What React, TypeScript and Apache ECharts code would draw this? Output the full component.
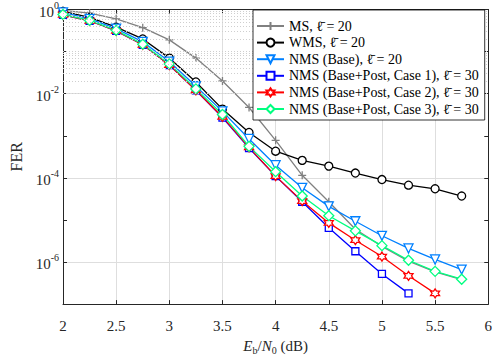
import React, { useEffect, useRef } from "react";
import * as echarts from "echarts";

const X_VALUES = [2, 2.25, 2.5, 2.75, 3, 3.25, 3.5, 3.75, 4, 4.25, 4.5, 4.75, 5, 5.25, 5.5, 5.75];

const MS = [0.95, 0.82, 0.6, 0.37, 0.19, 0.07, 0.02, 0.0047, 7.8e-4, 1.15e-4, 2.7e-5, 6.0e-6, 2.35e-6, 1.05e-6, 5.8e-7, 3.8e-7];
const WMS = [0.9, 0.65, 0.38, 0.2, 0.07, 0.019, 0.0043, 0.0012, 4.3e-4, 2.6e-4, 1.9e-4, 1.3e-4, 9.1e-5, 6.7e-5, 5.5e-5, 3.7e-5];
const NMS_BASE = [0.85, 0.6, 0.35, 0.17, 0.058, 0.015, 0.0038, 8.4e-4, 2.0e-4, 5.8e-5, 2.1e-5, 9.3e-6, 4.2e-6, 2.1e-6, 1.15e-6, 6.6e-7];
const NMS_CASE1 = [0.75, 0.54, 0.31, 0.145, 0.048, 0.012, 0.0027, 5.1e-4, 1.1e-4, 2.7e-5, 6.5e-6, 1.8e-6, 5.2e-7, 1.8e-7];
const NMS_CASE2 = [0.75, 0.54, 0.31, 0.145, 0.048, 0.012, 0.0028, 5.3e-4, 1.1e-4, 2.8e-5, 8.5e-6, 3.3e-6, 1.35e-6, 4.7e-7, 1.8e-7];
const NMS_CASE3 = [0.76, 0.55, 0.32, 0.15, 0.051, 0.013, 0.0032, 5.6e-4, 1.4e-4, 3.7e-5, 1.26e-5, 5.5e-6, 2.45e-6, 1.1e-6, 6.0e-7, 3.9e-7];

const SERIES_NAMES = [
  "MS, \u2113\u0304 = 20",
  "WMS, \u2113\u0304 = 20",
  "NMS (Base), \u2113\u0304 = 20",
  "NMS (Base+Post, Case 1), \u2113\u0304 = 30",
  "NMS (Base+Post, Case 2), \u2113\u0304 = 30",
  "NMS (Base+Post, Case 3), \u2113\u0304 = 30",
];

const Y_MIN = 1e-7;
const Y_MAX = 1;
const X_TICKS = ["2", "2.5", "3", "3.5", "4", "4.5", "5", "5.5", "6"];

const SERIF = "Liberation Serif, DejaVu Serif, serif";

const PLUS = "path://M5,0L5,10M0,5L10,5";
const TRI_DOWN = "path://M0,0L10,0L5,8.66Z";
const HEXAGRAM =
  "path://M5,0L6.443,2.5L9.33,2.5L7.887,5L9.33,7.5L6.443,7.5L5,10L3.557,7.5L0.67,7.5L2.113,5L0.67,2.5L3.557,2.5Z";

function minorGridValues(): number[] {
  const out: number[] = [];
  for (let e = -7; e <= -1; e++) {
    const p = Math.pow(10, e);
    if (e % 2 !== 0 && e !== -7) out.push(p);
    for (let m = 2; m <= 9; m++) out.push(m * p);
  }
  return out;
}

export default function App() {
  const ref = useRef<HTMLDivElement>(null);

  useEffect(() => {
    if (!ref.current) return;
    const chart = echarts.init(ref.current, null, { renderer: "svg" });

    const mk = (
      name: string,
      values: number[],
      color: string,
      symbol: string,
      size: number,
      fill: string
    ) => ({
      name,
      type: "line",
      data: values.map((v, i) => [X_VALUES[i], v]),
      symbol,
      symbolSize: size,
      lineStyle: { color, width: 1.3 },
      itemStyle: { color: fill, borderColor: color, borderWidth: 1.3 },
      emphasis: { disabled: true },
      z: 3,
    });

    const option: any = {
      animation: false,
      backgroundColor: "#fff",
      grid: { left: 62, right: 4, top: 7, bottom: 52, containLabel: false },
      legend: {
        data: SERIES_NAMES,
        orient: "vertical",
        left: 253,
        top: 10,
        padding: [9, 6, 4, 3],
        itemGap: 2.6,
        itemWidth: 27,
        itemHeight: 10,
        backgroundColor: "#fff",
        borderColor: "#000",
        borderWidth: 0.8,
        borderRadius: 0,
        textStyle: { fontFamily: SERIF, fontSize: 14, color: "#000", lineHeight: 14 },
        z: 10,
      },
      xAxis: [
        {
          type: "value",
          min: 2,
          max: 6,
          interval: 0.5,
          name: "{i|E}{sub|b}{r|/}{i|N}{sub|0}{r| (dB)}",
          nameLocation: "middle",
          nameGap: 28,
          nameTextStyle: {
            rich: {
              i: { fontFamily: SERIF, fontSize: 15, fontStyle: "italic", color: "#262626", verticalAlign: "top", lineHeight: 17 },
              r: { fontFamily: SERIF, fontSize: 15, color: "#262626", verticalAlign: "top", lineHeight: 17 },
              sub: { fontFamily: SERIF, fontSize: 10, color: "#262626", verticalAlign: "bottom", lineHeight: 17 },
            },
          },
          axisLine: { show: true, onZero: false, lineStyle: { color: "#262626", width: 1 } },
          axisTick: { show: true, inside: true, length: 4, lineStyle: { color: "#262626" } },
          axisLabel: {
            fontFamily: SERIF,
            fontSize: 15,
            color: "#262626",
            margin: 14,
            formatter: (v: number) => {
              const idx = Math.round((v - 2) / 0.5);
              return X_TICKS[idx] ?? "";
            },
          },
          splitLine: { show: true, lineStyle: { color: "#dedede", width: 1 } },
        },
        {
          type: "value",
          position: "top",
          min: 2,
          max: 6,
          interval: 0.5,
          axisLine: { show: true, onZero: false, lineStyle: { color: "#262626", width: 1 } },
          axisTick: { show: true, inside: true, length: 4, lineStyle: { color: "#262626" } },
          axisLabel: { show: false },
          splitLine: { show: false },
        },
      ],
      yAxis: [
        {
          type: "log",
          logBase: 10,
          min: Y_MIN,
          max: Y_MAX,
          name: "FER",
          nameLocation: "middle",
          nameGap: 39,
          nameTextStyle: { fontFamily: SERIF, fontSize: 16, color: "#262626" },
          axisLine: { show: true, onZero: false, lineStyle: { color: "#262626", width: 1 } },
          axisTick: { show: true, inside: true, length: 4, lineStyle: { color: "#262626" } },
          axisLabel: {
            margin: 4,
            formatter: (v: number) => {
              const e = Math.round(Math.log10(v));
              if (e % 2 !== 0) return "";
              return "{b|10}{s|" + e + "}";
            },
            rich: {
              b: { fontFamily: SERIF, fontSize: 15, color: "#262626", verticalAlign: "bottom", lineHeight: 19 },
              s: { fontFamily: SERIF, fontSize: 10, color: "#262626", verticalAlign: "top", lineHeight: 19 },
            },
          },
          splitLine: { show: true, lineStyle: { color: ["transparent", "#dedede"], width: 1 } },
        },
        {
          type: "log",
          logBase: 10,
          min: Y_MIN,
          max: Y_MAX,
          position: "right",
          axisLine: { show: true, onZero: false, lineStyle: { color: "#262626", width: 1 } },
          axisTick: { show: true, inside: true, length: 4, lineStyle: { color: "#262626" } },
          axisLabel: { show: false },
          splitLine: { show: false },
        },
      ],
      series: [
        {
          name: "minor-grid",
          type: "line",
          data: [],
          silent: true,
          z: 1,
          markLine: {
            silent: true,
            symbol: ["none", "none"],
            label: { show: false },
            lineStyle: { color: "#cfcfcf", width: 1, type: [1, 2] },
            emphasis: { disabled: true },
            data: minorGridValues().map((v) => ({ yAxis: v })),
          },
        },
        mk(SERIES_NAMES[0], MS, "#808080", PLUS, 8, "#808080"),
        mk(SERIES_NAMES[1], WMS, "#000000", "circle", 8, "#ffffff"),
        mk(SERIES_NAMES[2], NMS_BASE, "#0080ff", TRI_DOWN, 9, "#ffffff"),
        mk(SERIES_NAMES[3], NMS_CASE1, "#0000ff", "rect", 7, "#ffffff"),
        mk(SERIES_NAMES[4], NMS_CASE2, "#ff0000", HEXAGRAM, 9, "#ffffff"),
        mk(SERIES_NAMES[5], NMS_CASE3, "#00ff80", "diamond", 10, "#ffffff"),
      ],
    };

    chart.setOption(option);
    return () => chart.dispose();
  }, []);

  return <div ref={ref} style={{ width: 495, height: 360, position: "absolute", left: 0, top: 0 }} />;
}
